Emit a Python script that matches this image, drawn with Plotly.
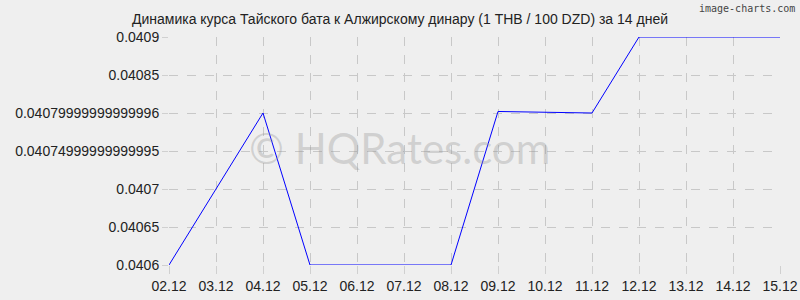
import plotly.graph_objects as go

dates = ["02.12", "03.12", "04.12", "05.12", "06.12", "07.12", "08.12",
         "09.12", "10.12", "11.12", "12.12", "13.12", "14.12", "15.12"]
rates = [0.0406, 0.0407, 0.0408, 0.0406, 0.0406, 0.0406, 0.0406,
         0.040802, 0.040801, 0.0408, 0.0409, 0.0409, 0.0409, 0.0409]
y_tick_vals = [0.0406, 0.04065, 0.0407, 0.04075, 0.0408, 0.04085, 0.0409]
y_tick_text = ["0.0406", "0.04065", "0.0407", "0.04074999999999995",
               "0.04079999999999996", "0.04085", "0.0409"]
title = "Динамика курса Тайского бата к Алжирскому динару (1 THB / 100 DZD) за 14 дней"

fig = go.Figure()
fig.add_trace(go.Scatter(x=dates, y=rates, mode="lines",
                         line=dict(color="#0000ff", width=1),
                         hoverinfo="x+y"))

font_family = "Liberation Sans, Arial, sans-serif"
fig.update_layout(
    width=800, height=300,
    margin=dict(l=169, r=20, t=37, b=35, autoexpand=False),
    paper_bgcolor="#efefef", plot_bgcolor="#efefef",
    showlegend=False,
    font=dict(family=font_family, size=14, color="#222222"),
    title=dict(text=title, x=0.5, xanchor="center", y=0.935, yanchor="middle",
               automargin=False,
               font=dict(family=font_family, size=14, color="#222222")),
    xaxis=dict(type="category", range=[0, 13], showgrid=True, automargin=False,
               gridcolor="#c8c8c8", griddash="dash", gridwidth=1,
               zeroline=False, showline=False,
               ticks="outside", ticklen=8, tickcolor="#d0d0d0",
               tickfont=dict(size=14, color="#222222")),
    yaxis=dict(range=[0.0406, 0.0409], tickvals=y_tick_vals, ticktext=y_tick_text,
               automargin=False,
               showgrid=True, gridcolor="#c8c8c8", griddash="dash", gridwidth=1,
               zeroline=False, showline=False,
               ticks="outside", ticklen=6, tickcolor="#d0d0d0",
               tickfont=dict(size=14, color="#222222")),
)

fig.add_annotation(text="© HQRates.com", xref="paper", yref="paper",
                   x=0.378, y=0.513, xanchor="center", yanchor="middle",
                   showarrow=False,
                   font=dict(family="Lato, Open Sans, sans-serif", size=42,
                             color="rgba(150,150,150,0.35)"))
fig.add_annotation(text="image-charts.com", xref="paper", yref="paper",
                   x=1.028, y=1.16, xanchor="right", yanchor="top",
                   showarrow=False,
                   font=dict(family="DejaVu Sans Mono, monospace", size=10,
                             color="#444444"))

fig.write_html("out.html")
